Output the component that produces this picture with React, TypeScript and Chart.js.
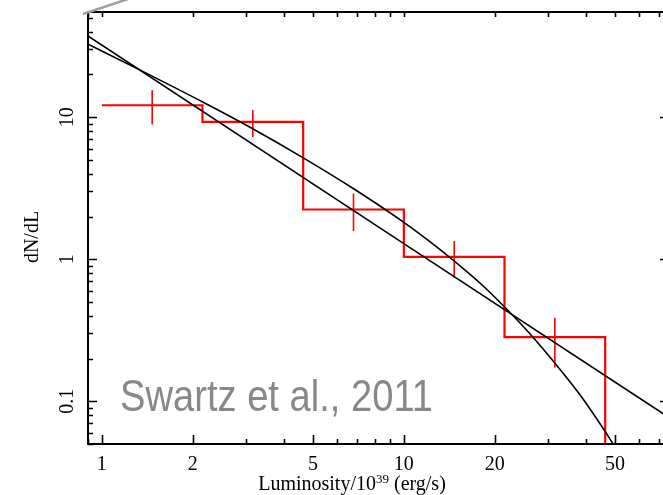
import { useEffect, useRef } from "react";
import { Chart, registerables } from "chart.js";

Chart.register(...registerables);

// Axis ranges (luminosity in 1e39 erg/s, dN/dL)
const X_MIN = 0.9;
const X_MAX = 75.5;
const Y_MIN = 0.05;
const Y_MAX = 55.1;

// Binned differential luminosity function
const binEdges = [1, 2.154, 4.642, 10, 21.54, 46.42];
const binValues = [12.15, 9.27, 2.24, 1.038, 0.2825];
const binCenters = [1.468, 3.162, 6.813, 14.68, 31.62];
const errLow = [8.89, 7.26, 1.58, 0.743, 0.1727];
const errHigh = [15.5, 11.26, 2.9, 1.345, 0.388];

// Power-law model
const powerLawL = [0.85, 10, 80];
const powerLawN = [40.4, 1.29, 0.0708];

// Power-law model with high-luminosity cut-off
const cutoffL = [0.88, 1.35, 2.19, 3.16, 4.63, 6.8, 10, 12.2, 14.6, 18.5, 23.3, 26.1, 31.6, 38.3, 47, 50, 53];
const cutoffN = [33.5, 21.3, 12.6, 8.3, 5.2, 3.15, 1.82, 1.33, 0.98, 0.635, 0.389, 0.3, 0.186, 0.111, 0.0587, 0.0476, 0.0386];

// Axis tick labels
const xMajorTicks = [1, 2, 5, 10, 20, 50];
const xTickLabels = ["1", "2", "5", "10", "20", "50"];
const yMajorTicks = [0.1, 1, 10];
const yTickLabels = ["0.1", "1", "10"];

const SERIF = "'Liberation Serif', 'Times New Roman', serif";
const SANS = "'Liberation Sans', Arial, sans-serif";

function logTicks(min: number, max: number) {
  const out: number[] = [];
  for (let e = -3; e <= 3; e++) {
    for (let m = 1; m <= 9; m++) {
      const v = m * Math.pow(10, e);
      if (v >= min * 0.9999 && v <= max * 1.0001) out.push(v);
    }
  }
  return out;
}

const framePlugin = {
  id: "frameAndLabels",
  afterDraw(chart: any) {
    const { ctx, chartArea: a } = chart;
    const xs = chart.scales.x;
    const ys = chart.scales.y;
    ctx.save();

    // frame
    ctx.strokeStyle = "#000";
    ctx.lineWidth = 2;
    ctx.strokeRect(a.left, a.top, a.right - a.left, a.bottom - a.top);

    // inward ticks
    ctx.lineWidth = 1.6;
    ctx.beginPath();
    for (const v of logTicks(X_MIN, X_MAX)) {
      const px = Math.round(xs.getPixelForValue(v)) + 0.5;
      const major = xMajorTicks.includes(v);
      const len = major ? 9 : 5;
      ctx.moveTo(px, a.bottom);
      ctx.lineTo(px, a.bottom - len);
      ctx.moveTo(px, a.top);
      ctx.lineTo(px, a.top + 5);
    }
    for (const v of logTicks(Y_MIN, Y_MAX)) {
      const py = Math.round(ys.getPixelForValue(v)) + 0.5;
      const major = yMajorTicks.some((t) => Math.abs(t - v) < 1e-9);
      const len = major ? 9 : 5;
      ctx.moveTo(a.left, py);
      ctx.lineTo(a.left + len, py);
      ctx.moveTo(a.right, py);
      ctx.lineTo(a.right - len, py);
    }
    ctx.stroke();

    // x tick labels
    ctx.fillStyle = "#000";
    ctx.font = `20px ${SERIF}`;
    ctx.textAlign = "center";
    ctx.textBaseline = "alphabetic";
    xMajorTicks.forEach((v, i) => {
      ctx.fillText(xTickLabels[i], xs.getPixelForValue(v), a.bottom + 26);
    });

    // y tick labels (rotated)
    yMajorTicks.forEach((v, i) => {
      ctx.save();
      ctx.translate(a.left - 15, ys.getPixelForValue(v));
      ctx.rotate(-Math.PI / 2);
      ctx.fillText(yTickLabels[i], 0, 0);
      ctx.restore();
    });

    // y title
    ctx.save();
    ctx.translate(38, (a.top + a.bottom) / 2 + 9);
    ctx.rotate(-Math.PI / 2);
    ctx.fillText("dN/dL", 0, 0);
    ctx.restore();

    // x title with superscript exponent
    const p1 = "Luminosity/10";
    const p2 = "39";
    const p3 = " (erg/s)";
    ctx.font = `20px ${SERIF}`;
    const w1 = ctx.measureText(p1).width;
    const w3 = ctx.measureText(p3).width;
    ctx.font = `13px ${SERIF}`;
    const w2 = ctx.measureText(p2).width;
    const total = w1 + w2 + w3;
    const cx = a.left + 264;
    let tx = cx - total / 2;
    const by = a.bottom + 46;
    ctx.textAlign = "left";
    ctx.font = `20px ${SERIF}`;
    ctx.fillText(p1, tx, by);
    tx += w1;
    ctx.font = `13px ${SERIF}`;
    ctx.fillText(p2, tx, by - 7);
    tx += w2;
    ctx.font = `20px ${SERIF}`;
    ctx.fillText(p3, tx, by);

    // citation
    ctx.save();
    ctx.fillStyle = "#888888";
    ctx.font = `44px ${SANS}`;
    const citation = "Swartz et al., 2011";
    const cw = ctx.measureText(citation).width;
    ctx.translate(a.left + 32, a.top + 399);
    ctx.scale(313 / cw, 1);
    ctx.fillText(citation, 0, 0);
    ctx.restore();

    // grey leader line at the top-left corner
    ctx.strokeStyle = "#a0a0a0";
    ctx.lineWidth = 2.5;
    ctx.beginPath();
    ctx.moveTo(a.left - 5, a.top + 2);
    ctx.lineTo(a.left + 40, a.top - 13);
    ctx.stroke();

    ctx.restore();
  },
};

export default function App() {
  const canvasRef = useRef<HTMLCanvasElement | null>(null);

  useEffect(() => {
    const canvas = canvasRef.current;
    if (!canvas) return;

    const histogram = binEdges.map((e, i) => ({
      x: e,
      y: i < binValues.length ? binValues[i] : Y_MIN / 2,
    }));

    const errorBars = binCenters.map((c, i) => ({
      data: [
        { x: c, y: errLow[i] },
        { x: c, y: errHigh[i] },
      ],
      borderColor: "#ff0000",
      borderWidth: 1.6,
      pointRadius: 0,
      fill: false,
    }));

    const chart = new Chart(canvas, {
      type: "line",
      data: {
        datasets: [
          {
            data: powerLawL.map((l, i) => ({ x: l, y: powerLawN[i] })),
            borderColor: "#000000",
            borderWidth: 1.6,
            pointRadius: 0,
            fill: false,
          },
          {
            data: cutoffL.map((l, i) => ({ x: l, y: cutoffN[i] })),
            borderColor: "#000000",
            borderWidth: 1.6,
            pointRadius: 0,
            fill: false,
            cubicInterpolationMode: "monotone",
          },
          {
            data: histogram,
            borderColor: "#ff0000",
            borderWidth: 2.2,
            pointRadius: 0,
            fill: false,
            stepped: true,
          },
          ...errorBars,
        ] as any,
      },
      options: {
        responsive: false,
        animation: false,
        events: [],
        layout: { padding: { left: 0, right: 11, top: 12, bottom: 0 } },
        plugins: {
          legend: { display: false },
          tooltip: { enabled: false },
        },
        scales: {
          x: {
            type: "logarithmic",
            min: X_MIN,
            max: X_MAX,
            grid: { display: false },
            border: { display: false },
            ticks: { display: false },
            afterFit: (s: any) => {
              s.height = 51;
            },
          },
          y: {
            type: "logarithmic",
            min: Y_MIN,
            max: Y_MAX,
            grid: { display: false },
            border: { display: false },
            ticks: { display: false },
            afterFit: (s: any) => {
              s.width = 88;
            },
          },
        },
      },
      plugins: [framePlugin],
    });

    return () => chart.destroy();
  }, []);

  return (
    <div
      style={{
        position: "fixed",
        left: 0,
        top: 0,
        width: 663,
        height: 495,
        overflow: "hidden",
        background: "#ffffff",
      }}
    >
      <canvas ref={canvasRef} width={680} height={495} style={{ display: "block" }} />
    </div>
  );
}
